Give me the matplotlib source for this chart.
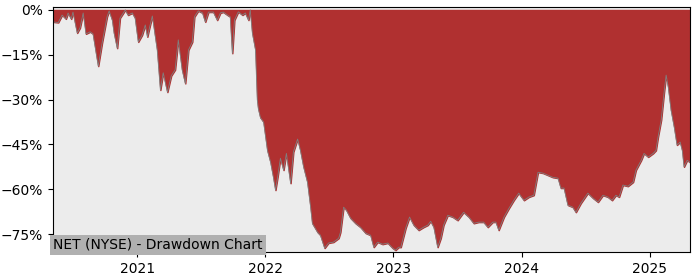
import pandas as pd
import matplotlib.pyplot as plt
import matplotlib.ticker as mticker
import matplotlib.dates as mdates

# fechas y caida desde maximos (en %)
fechas = [
    "2020-05-06", "2020-05-21", "2020-06-01", "2020-06-12", "2020-06-18", "2020-06-27",
    "2020-07-02", "2020-07-14", "2020-07-22", "2020-07-31", "2020-08-08", "2020-08-20",
    "2020-08-28", "2020-09-12", "2020-09-23", "2020-10-07", "2020-10-13", "2020-10-22",
    "2020-10-27", "2020-11-05", "2020-11-13", "2020-11-28", "2020-12-06", "2020-12-18",
    "2020-12-26", "2021-01-04", "2021-01-15", "2021-01-24", "2021-01-30", "2021-02-04",
    "2021-02-13", "2021-02-27", "2021-03-08", "2021-03-16", "2021-03-28", "2021-04-08",
    "2021-04-19", "2021-04-28", "2021-05-09", "2021-05-18", "2021-05-27", "2021-06-07",
    "2021-06-13", "2021-06-24", "2021-07-06", "2021-07-14", "2021-07-23", "2021-08-06",
    "2021-08-17", "2021-08-26", "2021-09-03", "2021-09-15", "2021-09-23", "2021-09-29",
    "2021-10-05", "2021-10-16", "2021-10-28", "2021-11-05", "2021-11-14", "2021-11-19",
    "2021-11-25", "2021-12-04", "2021-12-09", "2021-12-12", "2021-12-18", "2021-12-27",
    "2022-01-07", "2022-01-16", "2022-01-24", "2022-01-30", "2022-02-05", "2022-02-13",
    "2022-02-22", "2022-03-02", "2022-03-14", "2022-03-22", "2022-04-03", "2022-04-11",
    "2022-04-20", "2022-05-01", "2022-05-10", "2022-05-15", "2022-05-30", "2022-06-07",
    "2022-06-19", "2022-06-30", "2022-07-14", "2022-07-29", "2022-08-03", "2022-08-12",
    "2022-08-20", "2022-09-01", "2022-09-15", "2022-09-29", "2022-10-14", "2022-10-28",
    "2022-11-06", "2022-11-17", "2022-12-01", "2022-12-16", "2022-12-30", "2023-01-07",
    "2023-01-16", "2023-01-22", "2023-02-05", "2023-02-16", "2023-02-28", "2023-03-14",
    "2023-03-28", "2023-04-09", "2023-04-17", "2023-04-26", "2023-05-07", "2023-05-16",
    "2023-05-24", "2023-06-05", "2023-06-19", "2023-07-03", "2023-07-20", "2023-08-04",
    "2023-08-18", "2023-09-01", "2023-09-15", "2023-09-27", "2023-10-11", "2023-10-20",
    "2023-10-28", "2023-11-12", "2023-11-26", "2023-12-10", "2023-12-24", "2024-01-08",
    "2024-01-22", "2024-02-05", "2024-02-17", "2024-03-02", "2024-03-16", "2024-03-30",
    "2024-04-14", "2024-04-22", "2024-05-01", "2024-05-12", "2024-05-26", "2024-06-04",
    "2024-06-18", "2024-07-08", "2024-07-23", "2024-08-06", "2024-08-20", "2024-09-03",
    "2024-09-15", "2024-09-26", "2024-10-05", "2024-10-16", "2024-10-30", "2024-11-14",
    "2024-11-22", "2024-12-07", "2024-12-15", "2024-12-27", "2025-01-10", "2025-01-18",
    "2025-01-24", "2025-02-02", "2025-02-10", "2025-02-16", "2025-02-22", "2025-03-02",
    "2025-03-11", "2025-03-19", "2025-03-28", "2025-04-03", "2025-04-08", "2025-04-17",
    "2025-04-25",
]
caida = [
    -4.0, -4.2, -1.7, -3.0, -1.0, -3.0,
    -0.7, -7.7, -6.0, -1.0, -8.0, -7.3,
    -8.0, -18.8, -11.0, -2.3, -0.3, -3.4,
    -7.7, -12.8, -2.7, 0.0, -1.7, -1.0,
    -2.7, -10.7, -8.4, -5.0, -9.0, -6.4,
    -2.0, -13.4, -26.8, -21.0, -27.5, -22.0,
    -20.0, -10.0, -20.0, -24.6, -13.4, -10.7,
    -2.3, -0.3, -1.0, -4.0, -0.7, -0.7,
    -3.4, -1.0, -0.7, -1.7, -2.3, -14.5,
    -3.4, -0.6, -1.7, -1.0, -3.4, 0.0,
    -7.7, -13.4, -30.0, -33.0, -36.0, -37.5,
    -47.0, -51.0, -56.0, -60.3, -56.0, -49.6,
    -53.6, -48.0, -58.0, -47.5, -43.2, -47.0,
    -52.5, -57.6, -66.0, -71.4, -74.4, -75.4,
    -79.7, -78.0, -77.7, -76.4, -74.4, -66.0,
    -67.0, -69.7, -71.4, -72.7, -74.7, -75.4,
    -79.4, -77.7, -78.4, -78.0, -79.7, -80.4,
    -79.4, -79.4, -73.0, -69.3, -72.0, -73.7,
    -72.7, -72.0, -70.7, -72.7, -79.4, -76.4,
    -72.0, -68.7, -69.3, -70.4, -67.7, -69.3,
    -71.4, -71.0, -71.0, -72.7, -71.0, -71.0,
    -73.7, -69.3, -66.4, -63.7, -61.3, -63.7,
    -62.6, -62.0, -54.3, -54.6, -55.3, -56.0,
    -56.3, -59.6, -59.6, -65.3, -66.0, -67.7,
    -64.7, -61.3, -63.0, -64.3, -62.0, -62.6,
    -63.7, -62.0, -62.6, -58.6, -59.0, -57.6,
    -53.6, -50.3, -48.0, -49.2, -48.0, -47.0,
    -42.5, -36.8, -27.8, -21.8, -25.8, -33.5,
    -39.2, -45.2, -44.2, -47.0, -52.5, -50.3,
    -51.0,
]

df = pd.DataFrame({"fecha": pd.to_datetime(fechas), "caida": caida})

fig = plt.figure(figsize=(7, 2.8), dpi=100)
ax = fig.add_axes([0.0757, 0.1, 0.91, 0.875])
ax.set_facecolor("#ececec")

# relleno rojo desde 0 hasta la caida
ax.fill_between(df["fecha"], df["caida"], 0, color="#b03030")
ax.plot(df["fecha"], df["caida"], color="#808080", linewidth=0.6)

ax.set_xlim(df["fecha"].min(), df["fecha"].max())
ax.set_ylim(-81, 1)
ax.yaxis.set_major_locator(mticker.MultipleLocator(15))
ax.yaxis.set_major_formatter(mticker.PercentFormatter(xmax=100, decimals=0))
ax.xaxis.set_major_locator(mdates.YearLocator())
ax.xaxis.set_major_formatter(mdates.DateFormatter("%Y"))

ax.text(0.0, 0.0, "NET (NYSE) - Drawdown Chart", transform=ax.transAxes,
        ha="left", va="bottom", fontsize=10,
        bbox=dict(facecolor="#b0b0b0", edgecolor="none", pad=2.5))

fig.savefig("out.png")
